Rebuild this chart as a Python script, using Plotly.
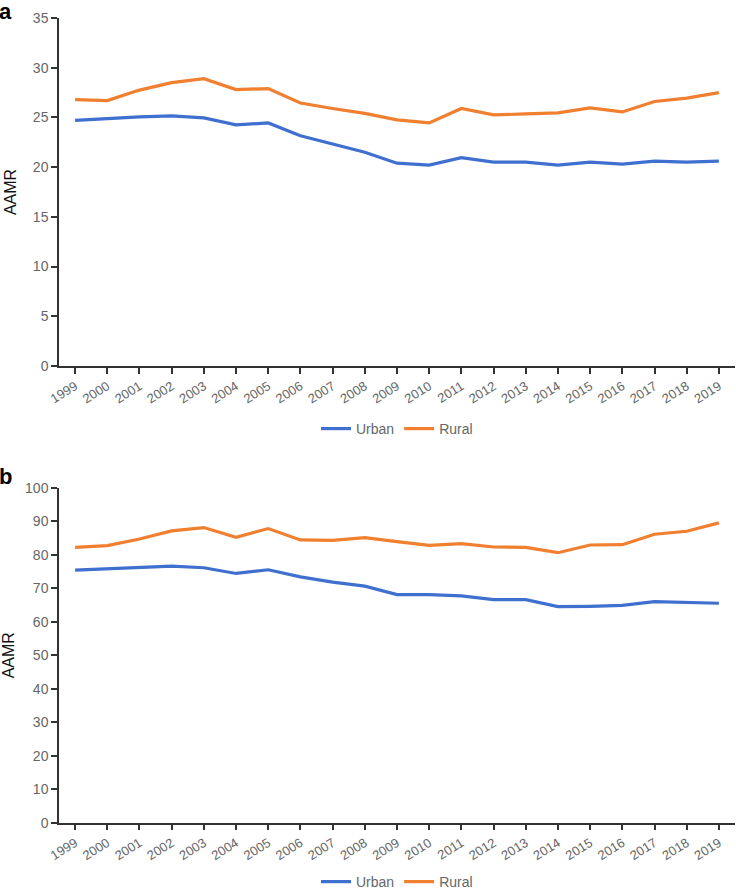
import plotly.graph_objects as go

years = list(range(1999, 2020))
year_labels = [str(y) for y in years]

urban_a = [24.7, 24.9, 25.05, 25.15, 24.95, 24.25, 24.45, 23.15, 22.35, 21.5, 20.4, 20.2,
           20.95, 20.5, 20.5, 20.2, 20.5, 20.3, 20.6, 20.5, 20.6]
rural_a = [26.8, 26.7, 27.75, 28.5, 28.9, 27.8, 27.9, 26.45, 25.9, 25.4, 24.75, 24.45,
           25.9, 25.25, 25.35, 25.45, 25.95, 25.55, 26.6, 26.95, 27.5]

urban_b = [75.4, 75.8, 76.0, 76.6, 76.1, 74.4, 75.5, 73.4, 71.8, 70.6, 68.1, 68.1,
           67.7, 66.6, 66.6, 64.5, 64.6, 64.9, 66.0, 65.7, 65.5]
rural_b = [82.2, 82.7, 84.7, 87.1, 88.1, 85.2, 87.8, 84.4, 84.3, 85.1, 83.9, 82.8,
           83.3, 82.3, 82.2, 80.6, 82.9, 83.0, 86.1, 87.0, 89.5]

BLUE = "#3f6fcf"
ORANGE = "#f07f2f"
FONT = "Liberation Sans, Arial, sans-serif"
W, H = 736, 890

fig = go.Figure()
fig.add_trace(go.Scatter(x=years, y=urban_a, name="Urban", mode="lines",
                         line=dict(color=BLUE, width=3.2), xaxis="x", yaxis="y", legend="legend"))
fig.add_trace(go.Scatter(x=years, y=rural_a, name="Rural", mode="lines",
                         line=dict(color=ORANGE, width=3.2), xaxis="x", yaxis="y", legend="legend"))
fig.add_trace(go.Scatter(x=years, y=urban_b, name="Urban", mode="lines",
                         line=dict(color=BLUE, width=3.2), xaxis="x2", yaxis="y2", legend="legend2"))
fig.add_trace(go.Scatter(x=years, y=rural_b, name="Rural", mode="lines",
                         line=dict(color=ORANGE, width=3.2), xaxis="x2", yaxis="y2", legend="legend2"))

xdom = [59 / W, 735 / W]
ya_dom = [1 - 366 / H, 1 - 18 / H]
yb_dom = [1 - 822.7 / H, 1 - 487.7 / H]

common_x = dict(range=[1998.5, 2019.5], tickmode="array", tickvals=years, ticktext=year_labels,
                tickangle=-32, ticks="outside", ticklen=6, tickwidth=1.5, tickcolor="#333",
                showline=True, linecolor="#333", linewidth=1.5, showgrid=False, zeroline=False,
                automargin=False,
                tickfont=dict(family=FONT, size=13, color="#666"), fixedrange=True)
common_y = dict(ticks="outside", ticklen=6, tickwidth=1.5, tickcolor="#333",
                showline=True, linecolor="#333", linewidth=1.5, showgrid=False, zeroline=False,
                automargin=False,
                tickfont=dict(family=FONT, size=14, color="#666"), fixedrange=True,
                title=dict(text="AAMR", font=dict(family=FONT, size=16, color="#111"), standoff=12))

fig.update_layout(
    width=W, height=H,
    margin=dict(l=0, r=0, t=0, b=0, autoexpand=False),
    paper_bgcolor="white", plot_bgcolor="white",
    font=dict(family=FONT),
    xaxis=dict(domain=xdom, anchor="y", **common_x),
    yaxis=dict(domain=ya_dom, anchor="x", range=[0, 35], tickvals=[0, 5, 10, 15, 20, 25, 30, 35], **common_y),
    xaxis2=dict(domain=xdom, anchor="y2", **common_x),
    yaxis2=dict(domain=yb_dom, anchor="x2", range=[0, 100], tickvals=list(range(0, 101, 10)), **common_y),
    legend=dict(orientation="h", x=397 / W, xanchor="center", y=1 - 429 / H, yanchor="middle",
                font=dict(family=FONT, size=14, color="#666"), bgcolor="rgba(0,0,0,0)"),
    legend2=dict(orientation="h", x=397 / W, xanchor="center", y=1 - 882 / H, yanchor="middle",
                 font=dict(family=FONT, size=14, color="#666"), bgcolor="rgba(0,0,0,0)"),
    annotations=[
        dict(text="<b>a</b>", x=0, y=1 + 3 / H, xref="paper", yref="paper", xanchor="left", yanchor="top",
             showarrow=False, font=dict(family=FONT, size=22, color="#000"), xshift=-3),
        dict(text="<b>b</b>", x=0, y=1 - 462 / H, xref="paper", yref="paper", xanchor="left", yanchor="top",
             showarrow=False, font=dict(family=FONT, size=22, color="#000"), xshift=-3),
    ],
)

fig.write_html("out.html", config={"displayModeBar": False},
               post_script="document.body.style.margin='0';document.body.style.overflow='hidden';")
